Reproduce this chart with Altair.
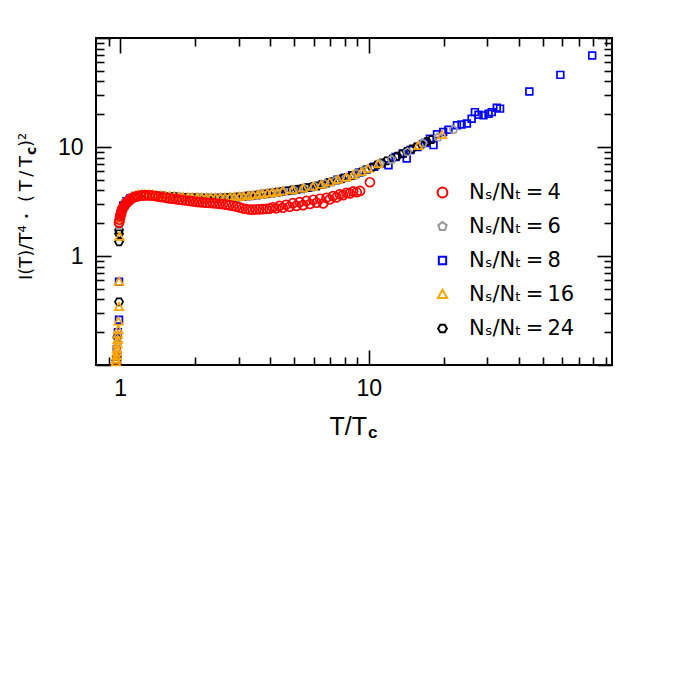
import altair as alt
import pandas as pd

# ---------------- data ----------------
SERIES = ["4", "6", "8", "16", "24"]
COLORS = ["#ff0000", "#999999", "#0000ff", "#ffa500", "#000000"]
SHAPES = [
    "M1,0A1,1,0,1,1,-1,0A1,1,0,1,1,1,0Z",
    "M0,-0.9L0.856,-0.278L0.529,0.728L-0.529,0.728L-0.856,-0.278Z",
    "M-0.75,-0.75L0.75,-0.75L0.75,0.75L-0.75,0.75Z",
    "M0,-0.95L0.95,0.7L-0.95,0.7Z",
    "M0.9,0L0.45,0.779L-0.45,0.779L-0.9,0L-0.45,-0.779L0.45,-0.779Z",
]

T4 = [0.99, 0.995, 1.0, 1.005, 1.01, 1.015, 1.02, 1.03, 1.04, 1.05, 1.06, 1.07, 1.08, 1.09, 1.10,
      1.12, 1.14, 1.16, 1.18, 1.21, 1.24, 1.27, 1.31, 1.35, 1.39, 1.43, 1.48, 1.53, 1.58, 1.63,
      1.68, 1.73, 1.78, 1.84, 1.90, 1.96, 2.02, 2.08, 2.15, 2.22, 2.29, 2.36, 2.43, 2.51, 2.59,
      2.67, 2.75, 2.84, 2.93, 3.02, 3.11, 3.21, 3.31, 3.41, 3.52, 3.63, 3.75, 3.87, 3.99, 4.11,
      4.24, 4.37, 4.51, 4.65, 4.80, 4.95, 5.11, 5.27, 5.44, 5.61, 5.80, 5.98, 6.17, 6.36, 6.55,
      6.76, 6.96, 7.18, 7.41, 7.64, 7.88, 8.13, 8.39, 8.65, 8.94, 9.22, 10.1]
Y4 = [2.02, 2.15, 2.3, 2.4, 2.5, 2.6, 2.68, 2.8, 2.9, 2.98, 3.06, 3.13, 3.2, 3.26, 3.31,
      3.4, 3.46, 3.51, 3.55, 3.58, 3.6, 3.6, 3.6, 3.58, 3.55, 3.5, 3.46, 3.42, 3.38, 3.35,
      3.32, 3.29, 3.26, 3.23, 3.2, 3.17, 3.14, 3.12, 3.1, 3.08, 3.07, 3.05, 3.03, 3.01, 2.99,
      2.96, 2.93, 2.88, 2.84, 2.79, 2.74, 2.7, 2.67, 2.66, 2.67, 2.68, 2.69, 2.71, 2.72, 2.8,
      2.74, 2.88, 2.77, 2.95, 2.83, 3.05, 2.88, 3.12, 2.93, 3.2, 3.0, 3.28, 3.08, 3.35, 3.03,
      3.42, 3.3, 3.55, 3.45, 3.68, 3.62, 3.8, 3.75, 3.92, 3.85, 3.95, 4.75]

T6 = [0.98, 0.99, 1.0, 1.02, 1.05, 1.1, 1.16, 1.24, 1.33, 1.45, 1.58, 1.73, 1.9, 2.09, 2.3,
      2.53, 2.79, 3.07, 3.38, 3.72, 4.1, 4.52, 4.98, 5.49, 6.05, 6.67, 7.35, 8.1, 8.93, 9.84,
      11.1, 12.35, 14.3, 16.5, 19.0, 21.9]
Y6 = [0.16, 1.9, 2.3, 2.8, 3.15, 3.42, 3.58, 3.64, 3.63, 3.58, 3.52, 3.47, 3.43, 3.41, 3.39,
      3.4, 3.45, 3.51, 3.59, 3.69, 3.8, 3.93, 4.04, 4.18, 4.35, 4.6, 4.92, 5.22, 5.7, 6.25,
      7.0, 7.67, 9.0, 10.8, 12.3, 14.4]

T8 = [0.97, 0.98, 0.99, 0.99, 1.0, 1.01, 1.03, 1.06, 1.1, 1.15, 1.21, 1.28, 1.36, 1.45,
      1.55, 1.66, 1.78, 1.91, 2.05, 2.2, 2.36, 2.53, 2.71, 2.9, 3.1, 3.32, 3.55, 3.8, 4.07,
      4.35, 4.65, 4.98, 5.33, 5.7, 6.1, 6.53, 6.99, 7.48, 8.0, 8.56, 9.16, 9.8, 10.5, 11.2,
      12.0, 12.8, 13.7, 14.2, 14.7, 15.7, 16.8, 17.6, 18.2, 18.8, 19.9, 20.9, 22.6, 23.6,
      24.8, 25.9, 26.7, 27.6, 28.9, 30.3, 31.2, 32.7, 33.7, 44.2, 58.9, 79.1]
Y8 = [0.14, 0.2, 0.26, 0.58, 2.2, 2.55, 2.9, 3.18, 3.38, 3.55, 3.62, 3.64, 3.62, 3.57,
      3.53, 3.49, 3.46, 3.43, 3.41, 3.4, 3.39, 3.4, 3.42, 3.45, 3.5, 3.55, 3.62, 3.7, 3.78,
      3.86, 3.94, 4.03, 4.12, 4.24, 4.36, 4.55, 4.76, 5.0, 5.23, 5.5, 5.85, 6.2, 6.6, 7.0,
      6.8, 8.1, 8.7, 7.83, 9.4, 10.0, 10.9, 11.9, 10.4, 13.1, 13.7, 14.4, 15.8, 16.1,
      16.4, 18.2, 20.9, 19.8, 19.5, 20.2, 20.9, 22.9, 22.5, 32.3, 45.9, 69.0]

T16 = [0.962, 0.965, 0.967, 0.97, 0.972, 0.975, 0.978, 0.98, 0.983, 0.985, 0.99, 0.99,
       0.995, 1.0, 1.005, 1.01, 1.02, 1.03, 1.05, 1.07, 1.09, 1.12, 1.15, 1.18, 1.22, 1.26,
       1.30, 1.35, 1.40, 1.46, 1.52, 1.58, 1.65, 1.72, 1.79, 1.87, 1.95, 2.04, 2.13, 2.22,
       2.32, 2.42, 2.53, 2.64, 2.76, 2.88, 3.01, 3.14, 3.28, 3.43, 3.58, 3.74, 3.91, 4.09,
       4.28, 4.51, 4.95, 5.43, 5.96, 6.44, 6.96, 7.52, 8.13, 8.64, 9.34, 9.94, 10.9, 15.8, 19.7]
Y16 = [0.106, 0.112, 0.12, 0.13, 0.14, 0.155, 0.17, 0.19, 0.21, 0.25, 0.34, 0.58,
       1.5, 2.2, 2.4, 2.55, 2.75, 2.9, 3.1, 3.25, 3.35, 3.48, 3.56, 3.62, 3.65, 3.66,
       3.65, 3.63, 3.6, 3.57, 3.55, 3.52, 3.5, 3.48, 3.46, 3.44, 3.43, 3.42, 3.41, 3.4,
       3.4, 3.4, 3.41, 3.42, 3.44, 3.46, 3.49, 3.52, 3.56, 3.6, 3.64, 3.69, 3.74, 3.79,
       3.85, 3.92, 4.02, 4.16, 4.31, 4.5, 4.75, 5.0, 5.25, 5.5, 5.9, 6.3, 6.95, 10.2, 12.9]

T24 = [0.965, 0.97, 0.975, 0.99, 0.99, 0.99, 0.99, 1.0, 1.01, 1.02, 1.04, 1.06, 1.08, 1.11,
       1.14, 1.18, 1.22, 1.27, 1.32, 1.38, 1.44, 1.5, 1.57, 1.64, 1.72, 1.8, 1.88, 1.97,
       2.06, 2.16, 2.26, 2.37, 2.48, 2.6, 2.72, 2.85, 2.98, 3.12, 3.27, 3.42, 3.58, 3.75,
       3.93, 4.11, 4.3, 4.5, 4.72, 4.94, 5.17, 5.41, 5.67, 5.93, 6.21, 6.5, 6.8, 7.12, 7.46,
       7.81, 8.17, 8.55, 8.95, 9.37, 9.81, 10.3, 10.8, 11.3, 11.8, 12.4, 13.0, 13.6, 14.2,
       14.9, 15.6, 16.3, 17.1, 17.9]
Y24 = [0.11, 0.12, 0.18, 0.38, 1.35, 1.6, 1.73, 2.2, 2.55, 2.75, 3.0, 3.18, 3.3, 3.44,
       3.53, 3.6, 3.63, 3.64, 3.63, 3.6, 3.57, 3.55, 3.52, 3.5, 3.47, 3.45, 3.44, 3.42,
       3.41, 3.4, 3.39, 3.39, 3.4, 3.41, 3.43, 3.45, 3.48, 3.52, 3.56, 3.6, 3.64, 3.69,
       3.74, 3.79, 3.85, 3.91, 3.97, 4.02, 4.09, 4.15, 4.23, 4.3, 4.4, 4.52, 4.66, 4.82, 4.97,
       5.12, 5.27, 5.46, 5.68, 5.92, 6.2, 6.5, 6.85, 7.15, 7.45, 7.8, 8.25, 8.65, 9.1,
       9.6, 10.05, 10.6, 11.2, 11.7]

X_DOMAIN = [0.8, 95]
Y_DOMAIN = [0.1, 100]
X_LABELS = [1, 10]
Y_LABELS = [1, 10]
X_MAJOR = [1, 10]
X_MINOR = [0.9, 2, 3, 4, 5, 6, 7, 8, 9, 20, 30, 40, 50, 60, 70, 80, 90]
Y_MAJOR = [0.1, 1, 10, 100]
Y_MINOR = [0.2, 0.3, 0.4, 0.5, 0.6, 0.7, 0.8, 0.9, 2, 3, 4, 5, 6, 7, 8, 9,
           20, 30, 40, 50, 60, 70, 80, 90]

X_TITLE = ["T/T", "c"]
Y_TITLE = ["I(T)/T\u2074", "\u2022", "(\u2009T\u2009/\u2009T", "c", ")\u00b2"]
LEGEND_PREFIX = "N\u209b/N\u209c\u2009=\u2009"

# ---------------- build table (drawing order: 8, 24, 6, 16, 4) ----------------
rows = []
for name, T, Y in [("8", T8, Y8), ("24", T24, Y24), ("6", T6, Y6), ("16", T16, Y16), ("4", T4, Y4)]:
    assert len(T) == len(Y), name
    rows += [{"T": t, "y": v, "s": name} for t, v in zip(T, Y)]
df = pd.DataFrame(rows)

W, H = 516, 327
FONT = "Liberation Sans"
TFONT = "DejaVu Sans"
xs = alt.Scale(type="log", domain=X_DOMAIN, nice=False)
ys = alt.Scale(type="log", domain=Y_DOMAIN, nice=False)

legend = alt.Legend(
    title=None, orient="none", legendX=336, legendY=144, padding=0,
    labelFontSize=21, labelFont=TFONT, labelColor="black",
    symbolSize=96, symbolStrokeWidth=2, rowPadding=12, labelOffset=16,
    labelExpr="'" + LEGEND_PREFIX + "' + datum.label",
)

points = alt.Chart(df).mark_point(filled=False, size=81, strokeWidth=1.7, opacity=1).encode(
    x=alt.X("T:Q", scale=xs, axis=alt.Axis(
        orient="bottom", values=X_LABELS, title=None, grid=False, domain=False,
        ticks=False, tickSize=0, labelPadding=12, labelFontSize=23, labelFont=FONT,
        labelColor="black", format="~g", labelFlush=False, labelOverlap=False)),
    y=alt.Y("y:Q", scale=ys, axis=alt.Axis(
        orient="left", values=Y_LABELS, title=None, grid=False, domain=False,
        ticks=False, tickSize=0, labelPadding=13, labelFontSize=23, labelFont=FONT,
        labelColor="black", format="~g", labelFlush=False, labelOverlap=False)),
    color=alt.Color("s:N", scale=alt.Scale(domain=SERIES, range=COLORS), legend=legend),
    shape=alt.Shape("s:N", scale=alt.Scale(domain=SERIES, range=SHAPES), legend=legend),
)


def tick_layer(xorient, yorient, xvals, yvals, size):
    return alt.Chart(df).mark_point(opacity=0).encode(
        x=alt.X("T:Q", scale=xs, axis=alt.Axis(
            orient=xorient, offset=-H, values=xvals, labels=False, domain=False,
            grid=False, ticks=True, tickSize=size, tickWidth=1.6, tickColor="black",
            title=None)),
        y=alt.Y("y:Q", scale=ys, axis=alt.Axis(
            orient=yorient, offset=-W, values=yvals, labels=False, domain=False,
            grid=False, ticks=True, tickSize=size, tickWidth=1.6, tickColor="black",
            title=None)),
    )


ticks = [
    tick_layer("top", "right", X_MAJOR, Y_MAJOR, 15),
    tick_layer("top", "right", X_MINOR, Y_MINOR, 8),
    tick_layer("bottom", "left", X_MAJOR, Y_MAJOR, 15),
    tick_layer("bottom", "left", X_MINOR, Y_MINOR, 8),
]

one = alt.Data(values=[{}])


def txt(text, x, y, size, align, angle=0, weight="normal", font=FONT, baseline="alphabetic"):
    kw = dict(text=text, align=align, baseline=baseline, fontSize=size,
              font=font, fontWeight=weight, color="black")
    if angle:
        kw["angle"] = angle
    return alt.Chart(one).mark_text(**kw).encode(x=alt.value(x), y=alt.value(y))


titles = [
    txt(X_TITLE[0], 271, 397, 25, "right"),
    txt(X_TITLE[1], 272, 400, 17, "left", weight="bold"),
    txt(Y_TITLE[0], -64, 242, 18, "left", angle=270, font=TFONT),
    txt(Y_TITLE[1], -69, 178, 11, "center", angle=270, font=TFONT, baseline="middle"),
    txt(Y_TITLE[2], -64, 118, 18, "right", angle=270, font=TFONT),
    txt(Y_TITLE[3], -60.5, 117, 14, "left", angle=270, weight="bold", font=TFONT),
    txt(Y_TITLE[4], -64, 109, 18, "left", angle=270, font=TFONT),
]

chart = alt.layer(points, *ticks, *titles).resolve_axis(
    x="independent", y="independent"
).properties(
    width=W, height=H,
    autosize=alt.AutoSizeParams(type="none"),
    padding={"left": 88, "top": 30, "right": 60, "bottom": 300},
).configure_view(stroke="black", strokeWidth=2)

chart.save("out.html", embed_options={"renderer": "svg", "actions": False})
